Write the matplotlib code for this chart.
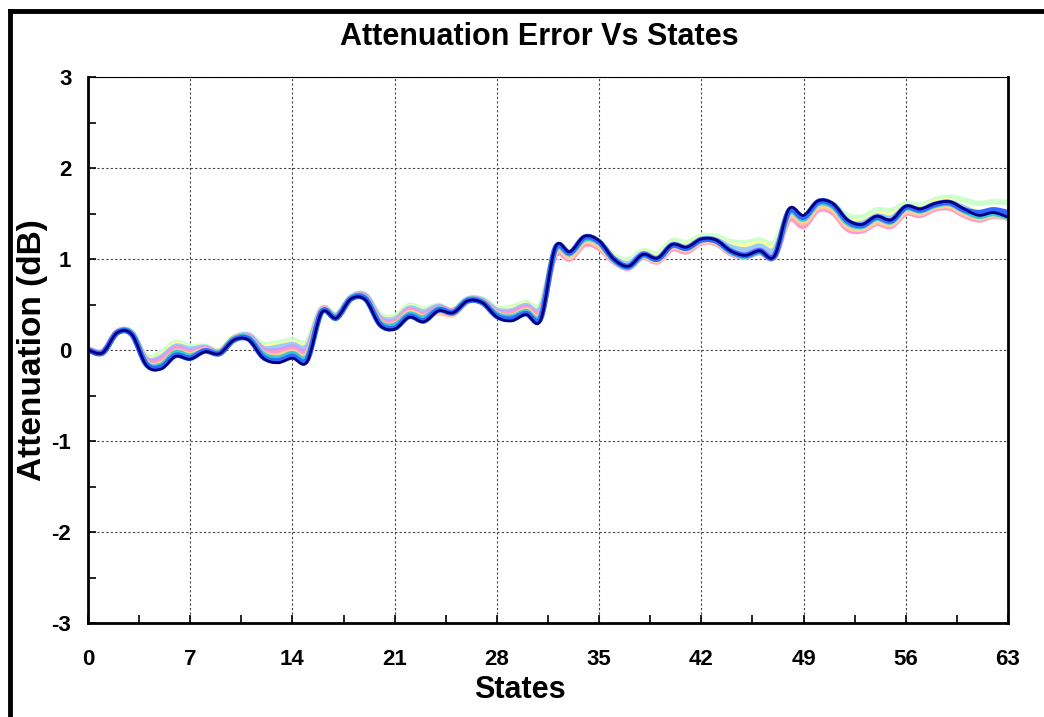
import numpy as np
import matplotlib
matplotlib.use("Agg")
import matplotlib.pyplot as plt
from matplotlib.path import Path
from matplotlib.patches import PathPatch
from matplotlib.lines import Line2D
from matplotlib.ticker import MultipleLocator

plt.rcParams['font.family'] = ['Liberation Sans', 'DejaVu Sans']
plt.rcParams['axes.unicode_minus'] = False

states = list(range(64))

att_green = [0.01, -0.02, 0.20, 0.19, -0.07, -0.03, 0.08, 0.04, 0.04, -0.01,
             0.14, 0.17, 0.06, 0.08, 0.11, 0.09, 0.46, 0.39, 0.58, 0.61,
             0.39, 0.37, 0.49, 0.45, 0.49, 0.44, 0.56, 0.56, 0.46, 0.47,
             0.52, 0.50, 1.10, 1.05, 1.20, 1.18, 1.04, 0.99, 1.09, 1.06,
             1.20, 1.18, 1.25, 1.25, 1.19, 1.18, 1.21, 1.18, 1.49, 1.42,
             1.60, 1.59, 1.48, 1.46, 1.54, 1.53, 1.61, 1.59, 1.65, 1.68,
             1.65, 1.61, 1.63, 1.62]
att_yellow = [0.01, -0.02, 0.20, 0.19, -0.09, -0.06, 0.06, 0.02, 0.03, -0.01,
              0.14, 0.16, 0.04, 0.05, 0.08, 0.06, 0.45, 0.38, 0.58, 0.60,
              0.37, 0.35, 0.47, 0.43, 0.48, 0.44, 0.56, 0.55, 0.45, 0.45,
              0.50, 0.47, 1.09, 1.05, 1.21, 1.17, 1.02, 0.96, 1.07, 1.03,
              1.17, 1.15, 1.23, 1.22, 1.15, 1.14, 1.17, 1.14, 1.50, 1.43,
              1.60, 1.57, 1.43, 1.41, 1.49, 1.48, 1.57, 1.55, 1.62, 1.64,
              1.57, 1.51, 1.54, 1.50]
att_lightblue = [0.01, -0.02, 0.20, 0.19, -0.10, -0.08, 0.04, 0.01, 0.03, -0.02,
                 0.13, 0.16, 0.02, 0.03, 0.06, 0.04, 0.45, 0.38, 0.58, 0.60,
                 0.36, 0.34, 0.46, 0.42, 0.48, 0.43, 0.56, 0.55, 0.44, 0.43,
                 0.49, 0.46, 1.09, 1.04, 1.21, 1.16, 1.01, 0.95, 1.06, 1.01,
                 1.16, 1.13, 1.22, 1.21, 1.13, 1.10, 1.14, 1.10, 1.49, 1.42,
                 1.59, 1.56, 1.41, 1.39, 1.47, 1.45, 1.56, 1.54, 1.60, 1.62,
                 1.56, 1.50, 1.53, 1.49]
att_violet = [0.01, -0.02, 0.20, 0.18, -0.11, -0.10, 0.02, -0.02, 0.02, -0.02,
              0.13, 0.15, 0.00, -0.01, 0.03, 0.00, 0.44, 0.37, 0.57, 0.59,
              0.34, 0.31, 0.44, 0.39, 0.47, 0.43, 0.55, 0.54, 0.42, 0.41,
              0.47, 0.43, 1.05, 1.01, 1.17, 1.13, 0.98, 0.92, 1.03, 0.99,
              1.13, 1.10, 1.19, 1.18, 1.08, 1.05, 1.10, 1.04, 1.45, 1.38,
              1.56, 1.53, 1.36, 1.34, 1.42, 1.39, 1.52, 1.50, 1.57, 1.58,
              1.51, 1.46, 1.50, 1.48]
att_pink = [0.01, -0.02, 0.20, 0.18, -0.12, -0.12, 0.01, -0.03, 0.01, -0.03,
            0.13, 0.14, -0.02, -0.03, 0.01, -0.02, 0.44, 0.37, 0.57, 0.58,
            0.33, 0.30, 0.43, 0.38, 0.46, 0.43, 0.55, 0.54, 0.41, 0.40,
            0.46, 0.42, 1.04, 1.00, 1.16, 1.12, 0.97, 0.90, 1.02, 0.97,
            1.11, 1.08, 1.18, 1.17, 1.06, 1.02, 1.07, 1.02, 1.43, 1.36,
            1.54, 1.51, 1.33, 1.31, 1.39, 1.36, 1.50, 1.48, 1.55, 1.56,
            1.48, 1.43, 1.47, 1.45]
att_peach = [0.00, -0.03, 0.19, 0.18, -0.14, -0.15, -0.02, -0.05, 0.00, -0.03,
             0.12, 0.13, -0.04, -0.06, -0.02, -0.05, 0.43, 0.36, 0.57, 0.57,
             0.31, 0.28, 0.41, 0.36, 0.41, 0.39, 0.53, 0.53, 0.40, 0.37,
             0.44, 0.39, 1.07, 1.02, 1.19, 1.14, 0.98, 0.91, 1.03, 0.98,
             1.13, 1.10, 1.19, 1.18, 1.07, 1.03, 1.08, 1.02, 1.47, 1.40,
             1.57, 1.54, 1.36, 1.33, 1.41, 1.38, 1.52, 1.50, 1.57, 1.58,
             1.50, 1.45, 1.48, 1.45]
att_teal = [0.00, -0.03, 0.19, 0.18, -0.15, -0.17, -0.03, -0.07, -0.01, -0.03,
            0.12, 0.13, -0.05, -0.09, -0.04, -0.08, 0.42, 0.36, 0.57, 0.57,
            0.30, 0.27, 0.39, 0.35, 0.45, 0.42, 0.55, 0.53, 0.39, 0.36,
            0.42, 0.37, 1.10, 1.06, 1.22, 1.18, 0.99, 0.91, 1.04, 1.00,
            1.15, 1.12, 1.21, 1.20, 1.08, 1.03, 1.08, 1.03, 1.51, 1.44,
            1.61, 1.58, 1.40, 1.36, 1.45, 1.41, 1.56, 1.53, 1.59, 1.61,
            1.53, 1.47, 1.50, 1.46]
att_blue = [0.00, -0.03, 0.19, 0.17, -0.16, -0.19, -0.06, -0.09, -0.01, -0.04,
            0.11, 0.12, -0.08, -0.12, -0.07, -0.11, 0.42, 0.35, 0.56, 0.56,
            0.28, 0.24, 0.37, 0.32, 0.44, 0.41, 0.54, 0.52, 0.37, 0.34,
            0.40, 0.35, 1.12, 1.07, 1.24, 1.19, 1.00, 0.92, 1.05, 1.00,
            1.15, 1.12, 1.21, 1.20, 1.09, 1.04, 1.09, 1.03, 1.53, 1.46,
            1.63, 1.60, 1.42, 1.37, 1.46, 1.42, 1.57, 1.54, 1.60, 1.62,
            1.54, 1.51, 1.54, 1.51]
att_navy = [0.00, -0.03, 0.19, 0.17, -0.17, -0.21, -0.07, -0.10, -0.02, -0.04,
            0.11, 0.11, -0.09, -0.14, -0.09, -0.13, 0.41, 0.35, 0.56, 0.55,
            0.27, 0.23, 0.36, 0.31, 0.43, 0.41, 0.54, 0.52, 0.36, 0.32,
            0.39, 0.33, 1.13, 1.08, 1.25, 1.20, 1.00, 0.92, 1.05, 1.01,
            1.16, 1.13, 1.22, 1.21, 1.09, 1.04, 1.09, 1.03, 1.55, 1.48,
            1.64, 1.61, 1.43, 1.38, 1.47, 1.43, 1.58, 1.55, 1.61, 1.63,
            1.55, 1.48, 1.51, 1.46]

# drawn in this order, navy last (on top)
series = [
    (att_green, '#CCFFCC', 4.0),
    (att_yellow, '#FFFF99', 4.0),
    (att_lightblue, '#99CCFF', 4.0),
    (att_violet, '#CC99FF', 4.0),
    (att_pink, '#FF99CC', 4.0),
    (att_peach, '#FFCC99', 4.0),
    (att_teal, '#33CCCC', 4.0),
    (att_blue, '#3366FF', 4.0),
    (att_navy, '#000080', 2.0),
]


def smooth_path(x, y):
    # excel-like smoothed line: cubic bezier through every point
    pts = np.column_stack([np.asarray(x, float), np.asarray(y, float)])
    ext = np.vstack([pts[0], pts, pts[-1]])
    verts = [pts[0]]
    codes = [Path.MOVETO]
    for i in range(len(pts) - 1):
        p0, p1, p2, p3 = ext[i], ext[i + 1], ext[i + 2], ext[i + 3]
        verts += [p1 + (p2 - p0) / 6, p2 - (p3 - p1) / 6, p2]
        codes += [Path.CURVE4] * 3
    return Path(verts, codes)


fig = plt.figure(figsize=(10.44, 7.17), dpi=100)
ax = fig.add_axes([88 / 1044, 1 - 623 / 717, 920 / 1044, 546 / 717])

for vals, col, lw in series:
    ax.add_patch(PathPatch(smooth_path(states, vals), fill=False,
                           edgecolor=col, lw=lw, capstyle='round',
                           joinstyle='round'))

ax.set_xlim(0, 63)
ax.set_ylim(-3, 3)
ax.xaxis.set_major_locator(MultipleLocator(7))
ax.xaxis.set_minor_locator(MultipleLocator(3.5))
ax.yaxis.set_major_locator(MultipleLocator(1))
ax.yaxis.set_minor_locator(MultipleLocator(0.5))
ax.grid(True, which='major', color='#444444', linestyle=(0, (2, 2)), lw=0.8)
ax.set_axisbelow(True)
ax.tick_params(which='both', direction='in', length=6, width=1.2,
               labelsize=16)
ax.tick_params(axis='y', pad=12)
ax.tick_params(axis='x', pad=19)
for lab in ax.get_xticklabels() + ax.get_yticklabels():
    lab.set_fontweight('bold')

for side in ['left', 'bottom', 'right']:
    ax.spines[side].set_linewidth(2)
ax.spines['top'].set_linewidth(0.8)

ax.set_xlabel('States', fontsize=22, fontweight='bold')
ax.set_ylabel('Attenuation (dB)', fontsize=24, fontweight='bold')
ax.xaxis.set_label_coords(0.47, -0.095)
ax.yaxis.set_label_coords(-0.0435, 0.5)

fig.text(0.517, 0.948, 'Attenuation Error Vs States', ha='center',
         va='center', fontsize=22, fontweight='bold')

# chart border (cut off on the right and bottom)
fig.add_artist(Line2D([10 / 1044, 10 / 1044], [0, 1 - 11 / 717],
                      transform=fig.transFigure, color='black', lw=3.5))
fig.add_artist(Line2D([10 / 1044, 1], [1 - 11 / 717, 1 - 11 / 717],
                      transform=fig.transFigure, color='black', lw=3.5))

fig.savefig('out.png', dpi=100)
